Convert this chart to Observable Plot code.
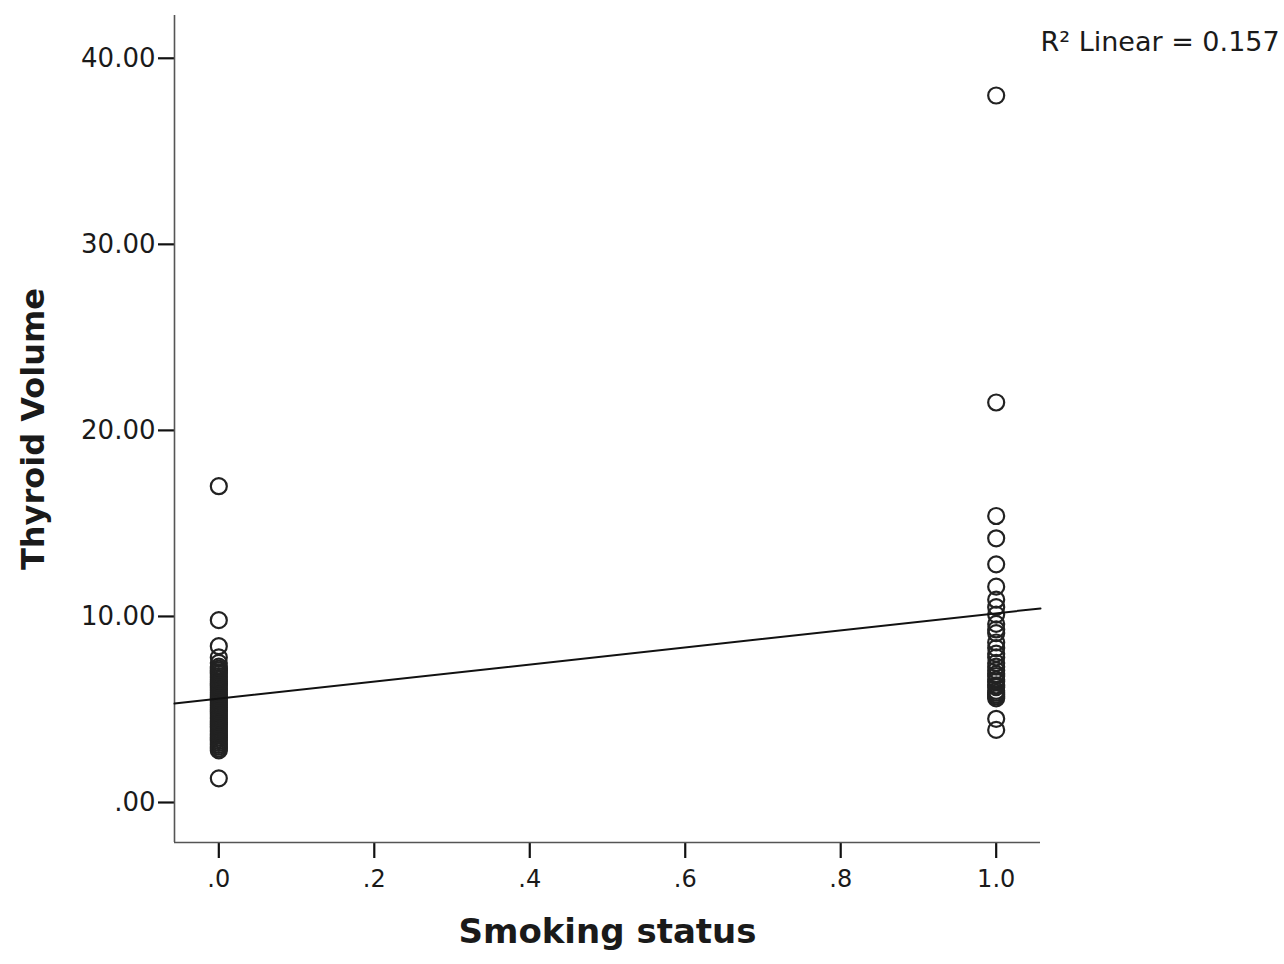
<!DOCTYPE html>
<html>
<head>
<meta charset="utf-8">
<script src="https://cdn.jsdelivr.net/npm/d3@7"></script>
<script src="https://cdn.jsdelivr.net/npm/@observablehq/plot@0.6"></script>
<style>
  html, body { margin: 0; padding: 0; background: #fff; }
  #chart svg { display: block; }
</style>
</head>
<body>
<div id="chart"></div>
<script>
// Smoking status groups
const nonSmokerVolumes = [17.0, 9.8, 8.4, 7.8, 7.5, 7.3, 7.2, 7.1, 7.0, 6.9, 6.8, 6.7, 6.6, 6.5, 6.4, 6.3, 6.2, 6.1, 6.0, 5.9, 5.8, 5.7, 5.6, 5.5, 5.4, 5.3, 5.2, 5.1, 5.0, 4.9, 4.8, 4.7, 4.6, 4.5, 4.4, 4.3, 4.2, 4.1, 4.0, 3.9, 3.8, 3.7, 3.6, 3.5, 3.4, 3.3, 3.2, 3.1, 3.0, 2.9, 2.8, 1.3];
const smokerVolumes = [38.0, 21.5, 15.4, 14.2, 12.8, 11.6, 10.9, 10.5, 10.1, 9.6, 9.3, 9.1, 8.6, 8.3, 8.0, 7.8, 7.5, 7.3, 7.1, 6.9, 6.8, 6.6, 6.5, 6.3, 6.2, 6.0, 5.9, 5.8, 5.7, 5.6, 4.5, 3.9];
const xTicks = [0, 0.2, 0.4, 0.6, 0.8, 1.0];
const yTicks = [0, 10, 20, 30, 40];
const fitIntercept = 5.58;
const fitSlope = 4.59;
const r2Label = "R\u00B2 Linear = 0.157";
const xTitle = "Smoking status";
const yTitle = "Thyroid Volume";

const xDomain = [-0.057, 1.057];
const yDomain = [-2.15, 42.3];

const points = [
  ...nonSmokerVolumes.map(v => ({status: 0, volume: v})),
  ...smokerVolumes.map(v => ({status: 1, volume: v}))
];
const fitLine = xDomain.map(x => ({status: x, volume: fitIntercept + fitSlope * x}));

const fmtX = d => d === 0 ? ".0" : (d < 1 ? d.toFixed(1).replace(/^0/, "") : d.toFixed(1));
const fmtY = d => d === 0 ? ".00" : d.toFixed(2);

const plot = Plot.plot({
  width: 1284,
  height: 964,
  marginLeft: 174,
  marginRight: 244,
  marginTop: 15,
  marginBottom: 122,
  style: {fontFamily: "'DejaVu Sans', sans-serif", background: "#fff", color: "#1a1a1a"},
  x: {domain: xDomain},
  y: {domain: yDomain},
  marks: [
    Plot.axisX({ticks: xTicks, tickFormat: fmtX, tickSize: 16, tickPadding: 11, fontSize: 24, label: null, stroke: "#111", strokeWidth: 2.2}),
    Plot.axisY({ticks: yTicks, tickFormat: fmtY, tickSize: 16, tickPadding: 3, fontSize: 26, label: null, stroke: "#111", strokeWidth: 2.2}),
    Plot.ruleX([xDomain[0]], {stroke: "#555", strokeWidth: 1.6}),
    Plot.ruleY([yDomain[0]], {stroke: "#555", strokeWidth: 1.6}),
    Plot.dot(points, {x: "status", y: "volume", r: 8, stroke: "#222", strokeWidth: 2.2, fill: "none"}),
    Plot.line(fitLine, {x: "status", y: "volume", stroke: "#111", strokeWidth: 2}),
    Plot.text([r2Label], {frameAnchor: "top-right", textAnchor: "start", lineAnchor: "middle", dx: 0, dy: 27, fontSize: 27, fill: "#1a1a1a"}),
    Plot.text([xTitle], {frameAnchor: "bottom", dy: 100, fontSize: 34, fontWeight: "bold", fill: "#1a1a1a"}),
    Plot.text([yTitle], {frameAnchor: "left", textAnchor: "middle", dx: -141, rotate: -90, fontSize: 32, fontWeight: "bold", fill: "#1a1a1a"})
  ]
});
document.getElementById("chart").appendChild(plot);
</script>
</body>
</html>
